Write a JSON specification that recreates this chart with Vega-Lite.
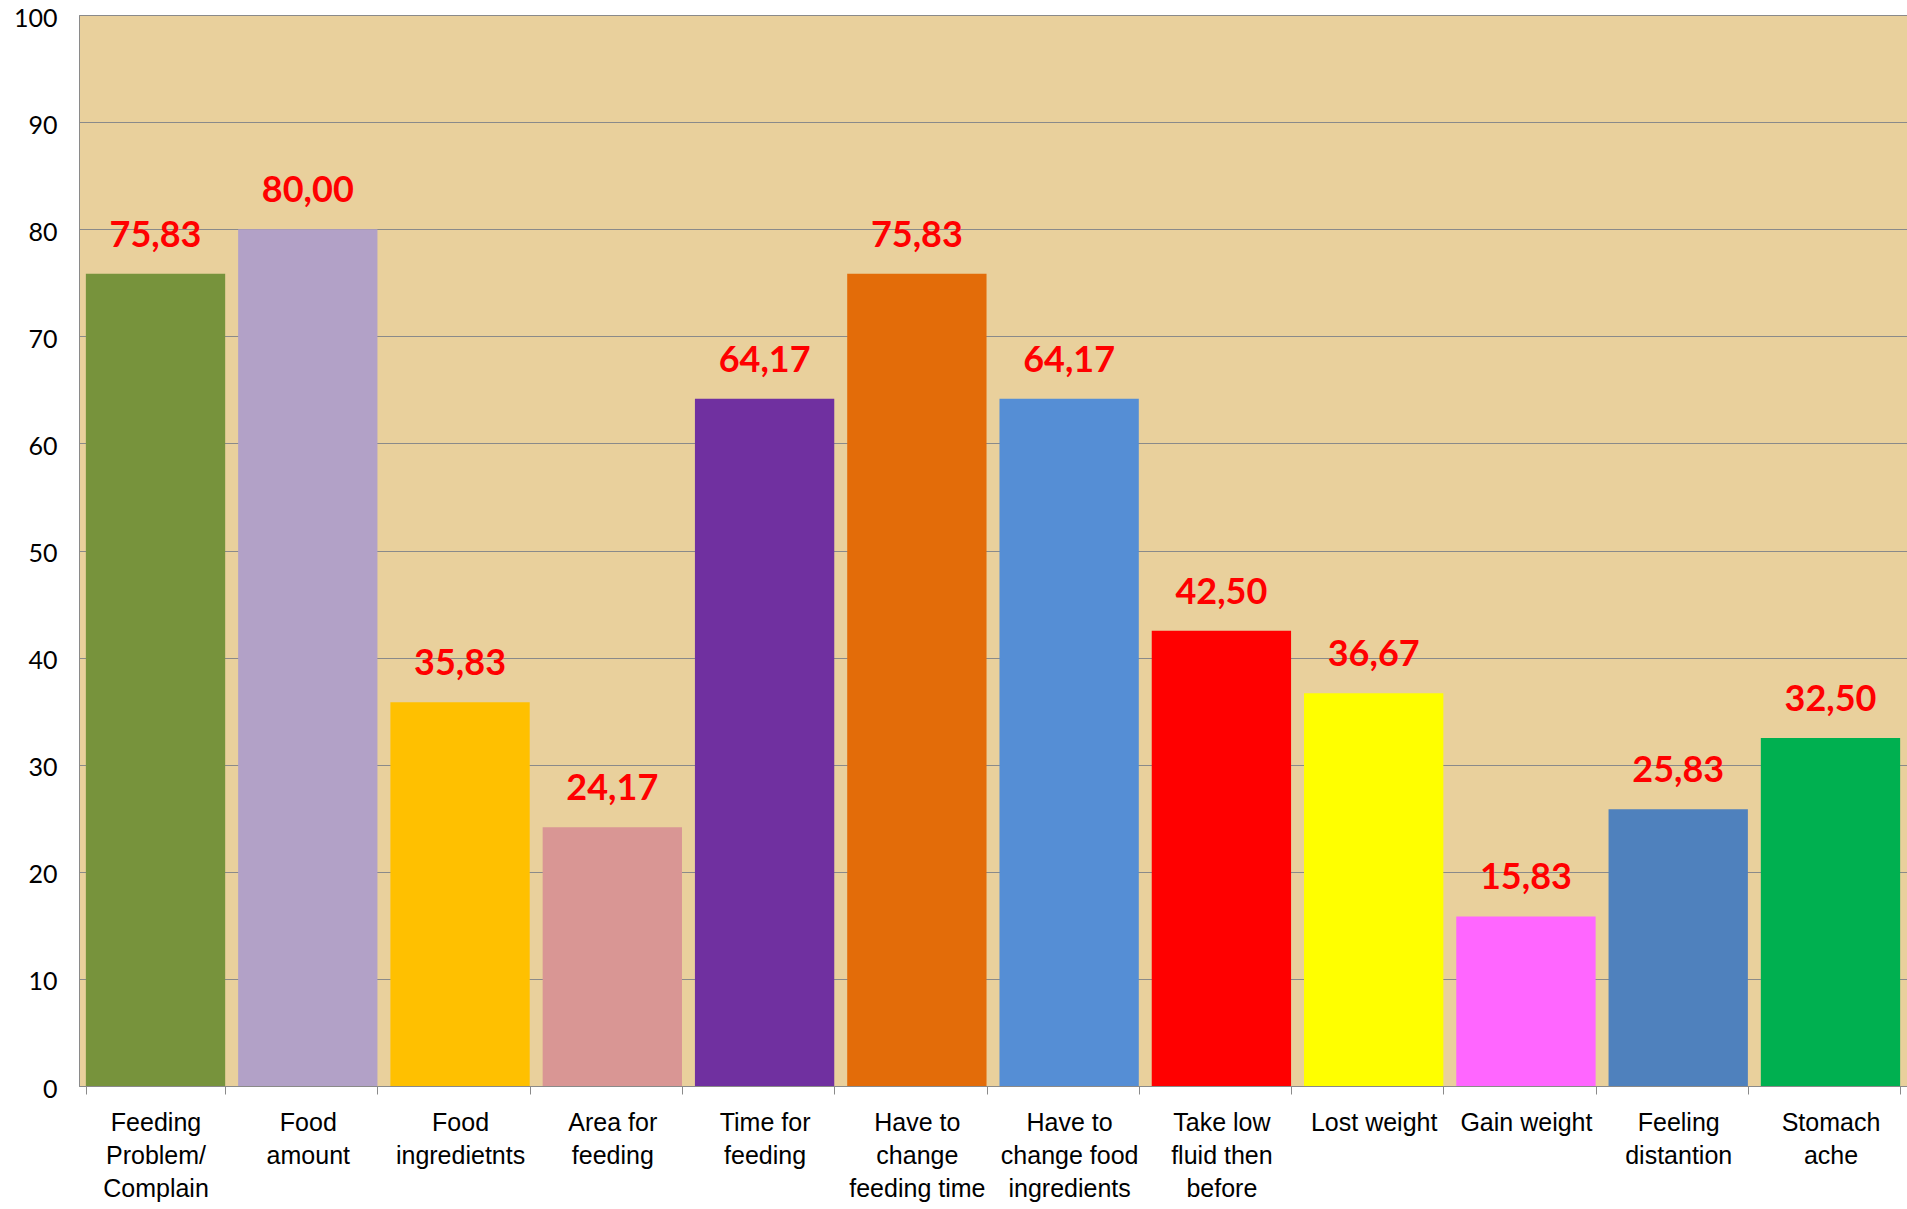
{
  "$schema": "https://vega.github.io/schema/vega-lite/v6.json",
  "autosize": "none",
  "width": 1828,
  "height": 1071,
  "padding": {"left": 79, "top": 15, "right": 0, "bottom": 123},
  "background": "white",
  "config": {
    "view": {"fill": "#E9D09C", "stroke": "#9a9a9a", "strokeWidth": 1}
  },
  "data": {
    "values": [
      {"cat": "Feeding|Problem/|Complain", "value": 75.83, "label": "75,83", "color": "#77933C"},
      {"cat": "Food|amount", "value": 80.00, "label": "80,00", "color": "#B2A1C7"},
      {"cat": "Food|ingredietnts", "value": 35.83, "label": "35,83", "color": "#FFC000"},
      {"cat": "Area for|feeding", "value": 24.17, "label": "24,17", "color": "#D99694"},
      {"cat": "Time for|feeding", "value": 64.17, "label": "64,17", "color": "#7030A0"},
      {"cat": "Have to|change|feeding time", "value": 75.83, "label": "75,83", "color": "#E36C09"},
      {"cat": "Have to|change food|ingredients", "value": 64.17, "label": "64,17", "color": "#558ED5"},
      {"cat": "Take low|fluid then|before", "value": 42.50, "label": "42,50", "color": "#FF0000"},
      {"cat": "Lost weight", "value": 36.67, "label": "36,67", "color": "#FFFF00"},
      {"cat": "Gain weight", "value": 15.83, "label": "15,83", "color": "#FF66FF"},
      {"cat": "Feeling|distantion", "value": 25.83, "label": "25,83", "color": "#4F81BD"},
      {"cat": "Stomach|ache", "value": 32.50, "label": "32,50", "color": "#00B050"}
    ]
  },
  "encoding": {
    "x": {
      "field": "cat",
      "type": "nominal",
      "sort": null,
      "title": null,
      "scale": {"paddingInner": 0.085, "paddingOuter": 0.045},
      "axis": {
        "labelAngle": 0,
        "labelExpr": "split(datum.label, '|')",
        "labelFont": "Liberation Sans",
        "labelFontSize": 25,
        "labelLineHeight": 33,
        "labelColor": "#000000",
        "labelPadding": 16,
        "labelLimit": 400,
        "labelOverlap": false,
        "labelBaseline": "top",
        "tickBand": "extent",
        "tickSize": 8,
        "tickColor": "#8a8a8a",
        "domainColor": "#8a8a8a",
        "grid": false
      }
    },
    "y": {
      "field": "value",
      "type": "quantitative",
      "title": null,
      "scale": {"domain": [0, 100], "nice": false},
      "axis": {
        "values": [0, 10, 20, 30, 40, 50, 60, 70, 80, 90, 100],
        "labelFont": "Lato",
        "labelFontSize": 25,
        "labelColor": "#000000",
        "labelPadding": 22,
        "labelOffset": 3,
        "ticks": false,
        "domainColor": "#8a8a8a",
        "grid": true,
        "gridColor": "#8a8a8a",
        "gridWidth": 1
      }
    }
  },
  "layer": [
    {
      "mark": {"type": "bar"},
      "encoding": {
        "color": {"field": "color", "type": "nominal", "scale": null, "legend": null}
      }
    },
    {
      "mark": {
        "type": "text",
        "font": "Lato",
        "fontWeight": "bold",
        "fontSize": 36,
        "color": "#FF0000",
        "baseline": "alphabetic",
        "align": "center",
        "dy": -27
      },
      "encoding": {
        "text": {"field": "label", "type": "nominal"}
      }
    }
  ]
}
